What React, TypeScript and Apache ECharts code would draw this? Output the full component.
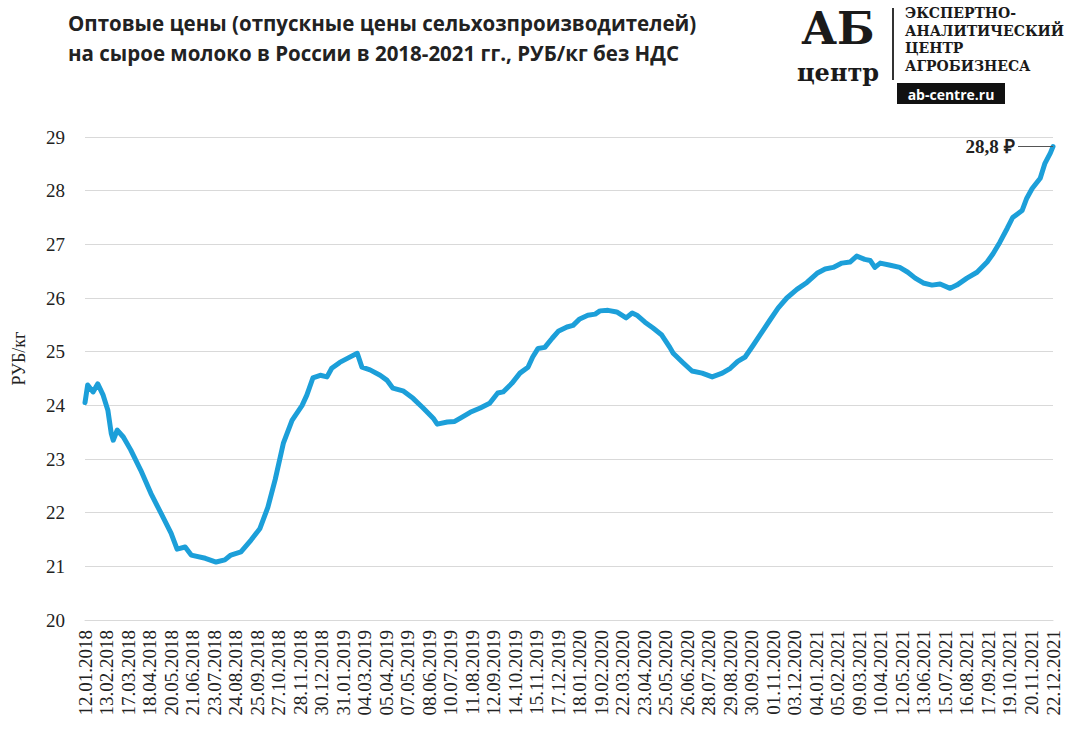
import React, { useEffect, useRef } from "react";
import * as echarts from "echarts";

const startDate = "2018-01-12";
const tickStepDays = 32;

const tickLabels = [
  "12.01.2018", "13.02.2018", "17.03.2018", "18.04.2018", "20.05.2018", "21.06.2018",
  "23.07.2018", "24.08.2018", "25.09.2018", "27.10.2018", "28.11.2018", "30.12.2018",
  "31.01.2019", "04.03.2019", "05.04.2019", "07.05.2019", "08.06.2019", "10.07.2019",
  "11.08.2019", "12.09.2019", "14.10.2019", "15.11.2019", "17.12.2019", "18.01.2020",
  "19.02.2020", "22.03.2020", "23.04.2020", "25.05.2020", "26.06.2020", "28.07.2020",
  "29.08.2020", "30.09.2020", "01.11.2020", "03.12.2020", "04.01.2021", "05.02.2021",
  "09.03.2021", "10.04.2021", "12.05.2021", "13.06.2021", "15.07.2021", "16.08.2021",
  "17.09.2021", "19.10.2021", "20.11.2021", "22.12.2021",
];

const dates = [
  "2018-01-12", "2018-01-16", "2018-01-24", "2018-01-31", "2018-02-08", "2018-02-15",
  "2018-02-20", "2018-02-23", "2018-03-01", "2018-03-10", "2018-03-21", "2018-04-05",
  "2018-04-20", "2018-05-05", "2018-05-20", "2018-05-29", "2018-06-10", "2018-06-19",
  "2018-07-10", "2018-07-26", "2018-08-08", "2018-08-17", "2018-09-01", "2018-09-16",
  "2018-09-29", "2018-10-11", "2018-10-22", "2018-11-03", "2018-11-16", "2018-12-01",
  "2018-12-08", "2018-12-17", "2018-12-28", "2019-01-07", "2019-01-14", "2019-01-26",
  "2019-02-07", "2019-02-21", "2019-02-28", "2019-03-12", "2019-03-27", "2019-04-06",
  "2019-04-15", "2019-04-30", "2019-05-15", "2019-05-30", "2019-06-14", "2019-06-20",
  "2019-07-05", "2019-07-16", "2019-07-27", "2019-08-08", "2019-08-23", "2019-09-06",
  "2019-09-18", "2019-09-26", "2019-10-09", "2019-10-21", "2019-11-02", "2019-11-09",
  "2019-11-17", "2019-11-27", "2019-12-08", "2019-12-17", "2019-12-30", "2020-01-08",
  "2020-01-18", "2020-01-30", "2020-02-10", "2020-02-17", "2020-02-29", "2020-03-13",
  "2020-03-27", "2020-04-05", "2020-04-12", "2020-04-24", "2020-05-06", "2020-05-19",
  "2020-05-31", "2020-06-05", "2020-06-20", "2020-07-03", "2020-07-18", "2020-08-02",
  "2020-08-17", "2020-08-29", "2020-09-09", "2020-09-20", "2020-10-02", "2020-10-12",
  "2020-10-27", "2020-11-08", "2020-11-21", "2020-12-06", "2020-12-21", "2021-01-05",
  "2021-01-17", "2021-01-29", "2021-02-11", "2021-02-23", "2021-03-05", "2021-03-17",
  "2021-03-25", "2021-04-01", "2021-04-09", "2021-04-24", "2021-05-08", "2021-05-20",
  "2021-05-31", "2021-06-12", "2021-06-25", "2021-07-07", "2021-07-22", "2021-08-01",
  "2021-08-16", "2021-08-31", "2021-09-15", "2021-09-24", "2021-10-04", "2021-10-15",
  "2021-10-23", "2021-11-06", "2021-11-13", "2021-11-21", "2021-12-03", "2021-12-10",
  "2021-12-18", "2021-12-22",
];

const prices = [
  24.05, 24.38, 24.25, 24.40, 24.19, 23.91,
  23.48, 23.35, 23.54, 23.41, 23.17, 22.79,
  22.36, 21.99, 21.62, 21.32, 21.36, 21.21,
  21.15, 21.08, 21.12, 21.21, 21.27, 21.49,
  21.70, 22.10, 22.62, 23.29, 23.72, 24.00,
  24.19, 24.51, 24.56, 24.53, 24.69, 24.80,
  24.88, 24.97, 24.71, 24.66, 24.56, 24.47,
  24.32, 24.27, 24.13, 23.95, 23.76, 23.65,
  23.69, 23.70, 23.78, 23.87, 23.95, 24.04,
  24.23, 24.25, 24.41, 24.60, 24.71, 24.90,
  25.06, 25.08, 25.25, 25.38, 25.46, 25.49,
  25.61, 25.68, 25.70, 25.76, 25.77, 25.74,
  25.63, 25.72, 25.68, 25.55, 25.44, 25.31,
  25.08, 24.97, 24.79, 24.64, 24.60, 24.53,
  24.60, 24.69, 24.82, 24.90, 25.12, 25.31,
  25.59, 25.81, 26.00, 26.16, 26.29, 26.46,
  26.54, 26.57, 26.65, 26.67, 26.78, 26.72,
  26.70, 26.57, 26.65, 26.61, 26.57, 26.48,
  26.37, 26.28, 26.24, 26.26, 26.18, 26.24,
  26.37, 26.48, 26.67, 26.83, 27.04, 27.30,
  27.50, 27.63, 27.86, 28.04, 28.23, 28.51,
  28.70, 28.82,
];

const lastLabel = "28,8 ₽";
const titleLines = [
  "Оптовые цены (отпускные цены сельхозпроизводителей)",
  "на сырое молоко в России в 2018-2021 гг., РУБ/кг без НДС",
];
const logoLines = ["ЭКСПЕРТНО-", "АНАЛИТИЧЕСКИЙ", "ЦЕНТР", "АГРОБИЗНЕСА"];

const DAY = 86400000;
const dayOffset = (d: string) => Math.round((Date.parse(d) - Date.parse(startDate)) / DAY);

export default function App() {
  const ref = useRef<HTMLDivElement>(null);
  useEffect(() => {
    if (!ref.current) return;
    const chart = echarts.init(ref.current, undefined, { renderer: "svg" });
    const n = dates.length;
    const seriesData = dates.map((d, i) => [dayOffset(d), prices[i]]);
    const lastX = dayOffset(dates[n - 1]);
    const lastY = prices[n - 1];
    const serif = "Liberation Serif";

    const graphic: any[] = [
      ...titleLines.map((t, i) => ({
        type: "text",
        x: 68,
        y: 23 + i * 30,
        style: {
          text: t,
          font: 'bold 20.5px "Open Sans"',
          fill: "#222",
          verticalAlign: "middle",
        },
      })),
      {
        type: "text",
        x: 838,
        y: 28,
        style: {
          text: "АБ",
          font: 'bold 44px "DejaVu Serif"',
          fill: "#1a1a1a",
          align: "center",
          verticalAlign: "middle",
        },
      },
      {
        type: "text",
        x: 838,
        y: 72,
        style: {
          text: "центр",
          font: 'bold 24px "DejaVu Serif"',
          fill: "#1a1a1a",
          align: "center",
          verticalAlign: "middle",
        },
      },
      {
        type: "line",
        shape: { x1: 893, y1: 8, x2: 893, y2: 80 },
        style: { stroke: "#333", lineWidth: 2 },
      },
      ...logoLines.map((t, i) => ({
        type: "text",
        x: 905,
        y: 13 + i * 17.5,
        style: {
          text: t,
          font: 'bold 14px "DejaVu Serif"',
          fill: "#1a1a1a",
          verticalAlign: "middle",
        },
      })),
      {
        type: "rect",
        shape: { x: 897, y: 83, width: 108, height: 21 },
        style: { fill: "#111" },
      },
      {
        type: "text",
        x: 951,
        y: 94,
        style: {
          text: "ab-centre.ru",
          font: 'bold 14px "Open Sans"',
          fill: "#fff",
          align: "center",
          verticalAlign: "middle",
        },
      },
    ];

    chart.setOption({
      animation: false,
      backgroundColor: "#fff",
      graphic,
      grid: { left: 85, right: 15, top: 137, bottom: 115, containLabel: false },
      xAxis: {
        type: "value",
        min: 0,
        max: (tickLabels.length - 1) * tickStepDays,
        interval: tickStepDays,
        axisLine: { show: true, lineStyle: { color: "#d9d9d9" } },
        axisTick: { show: false },
        splitLine: { show: false },
        axisLabel: {
          rotate: 90,
          margin: 10,
          fontFamily: serif,
          fontSize: 19,
          color: "#222",
          showMinLabel: true,
          showMaxLabel: true,
          formatter: (v: number) => tickLabels[Math.round(v / tickStepDays)] ?? "",
        },
      },
      yAxis: {
        type: "value",
        min: 20,
        max: 29,
        interval: 1,
        name: "РУБ/кг",
        nameLocation: "middle",
        nameGap: 57,
        nameTextStyle: { fontFamily: serif, fontSize: 18, color: "#222", padding: [0, 0, 0, 40] },
        axisLine: { show: false },
        axisTick: { show: false },
        splitLine: { lineStyle: { color: "#d9d9d9", width: 1 } },
        axisLabel: { fontFamily: serif, fontSize: 19, color: "#222", margin: 20 },
      },
      series: [
        {
          type: "line",
          data: seriesData,
          showSymbol: false,
          symbol: "none",
          lineStyle: { color: "#1c9fd9", width: 5, join: "round", cap: "round" },
          itemStyle: { color: "#1c9fd9" },
          markPoint: {
            silent: true,
            symbol: "circle",
            symbolSize: 1,
            itemStyle: { color: "rgba(0,0,0,0)" },
            data: [
              {
                coord: [lastX, lastY],
                label: {
                  show: true,
                  position: "left",
                  distance: 38,
                  formatter: lastLabel,
                  fontFamily: serif,
                  fontWeight: "bold",
                  fontSize: 19,
                  color: "#222",
                },
              },
            ],
          },
          markLine: {
            silent: true,
            symbol: ["none", "none"],
            label: { show: false },
            lineStyle: { color: "#555", width: 1, type: "solid" },
            data: [[{ coord: [lastX - 52, lastY] }, { coord: [lastX, lastY] }]],
          },
        },
      ],
    });
    return () => chart.dispose();
  }, []);
  return (
    <div
      ref={ref}
      style={{ position: "fixed", left: 0, top: 0, width: 1068, height: 735, background: "#fff" }}
    />
  );
}
